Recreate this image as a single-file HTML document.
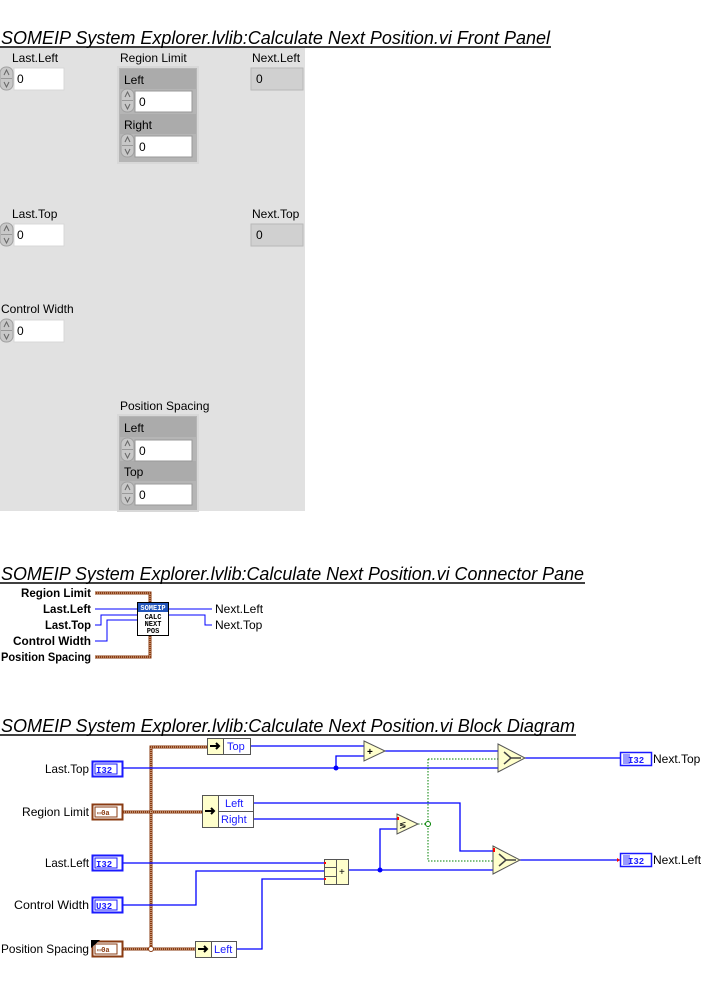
<!DOCTYPE html>
<html><head><meta charset="utf-8"><style>
html,body{margin:0;padding:0;background:#fff;width:703px;height:983px;overflow:hidden}
svg{display:block;font-family:"Liberation Sans",sans-serif}
</style></head><body>
<svg width="703" height="983" viewBox="0 0 703 983" xmlns="http://www.w3.org/2000/svg">
<defs>
<g id="spin">
<rect x="0" y="0" width="13" height="23" rx="6" fill="#c8c8c8" stroke="#a0a0a0"/>
<line x1="1" y1="11.5" x2="12" y2="11.5" stroke="#999"/>
<path d="M4 8 L6.5 3 L9 8" fill="none" stroke="#666" stroke-width="1"/>
<path d="M4 15 L6.5 20 L9 15" fill="none" stroke="#666" stroke-width="1"/>
</g>
</defs>
<!-- Front panel -->
<text x="1" y="44" font-size="18" font-style="italic" textLength="549" lengthAdjust="spacingAndGlyphs">SOMEIP System Explorer.lvlib:Calculate Next Position.vi Front Panel</text>
<line x1="0" y1="47" x2="551" y2="47" stroke="#000" stroke-width="1.5"/>
<rect x="0" y="48" width="305" height="463" fill="#e1e1e1"/>
<g font-size="12" fill="#000">
<text x="12" y="62">Last.Left</text>
<text x="120" y="62">Region Limit</text>
<text x="252" y="62">Next.Left</text>
<text x="12" y="218">Last.Top</text>
<text x="252" y="218">Next.Top</text>
<text x="1" y="313">Control Width</text>
<text x="120" y="410">Position Spacing</text>
</g>
<g font-size="12">
<use href="#spin" x="0" y="67"/><rect x="14" y="68" width="50" height="22" fill="#fff" stroke="#d8d8d8"/><text x="17" y="83">0</text>
<use href="#spin" x="0" y="223"/><rect x="14" y="224" width="50" height="22" fill="#fff" stroke="#d8d8d8"/><text x="17" y="239">0</text>
<use href="#spin" x="0" y="319"/><rect x="14" y="320" width="50" height="22" fill="#fff" stroke="#d8d8d8"/><text x="17" y="335">0</text>
<rect x="251" y="68" width="52" height="22" fill="#d0d0d0" stroke="#b8b8b8"/><text x="256" y="83">0</text>
<rect x="251" y="224" width="52" height="22" fill="#d0d0d0" stroke="#b8b8b8"/><text x="256" y="239">0</text>
<rect x="118" y="67" width="80" height="96" fill="#b5b5b5" stroke="#d8d8d8" stroke-width="2"/>
<rect x="120" y="69" width="76" height="20" fill="#ababab"/>
<rect x="120" y="114" width="76" height="20" fill="#ababab"/>
<text x="124" y="84">Left</text>
<use href="#spin" x="121" y="89"/><rect x="135" y="91" width="57" height="21" fill="#fff" stroke="#999"/><text x="139" y="106">0</text>
<text x="124" y="129">Right</text>
<use href="#spin" x="121" y="134"/><rect x="135" y="136" width="57" height="21" fill="#fff" stroke="#999"/><text x="139" y="151">0</text>
<rect x="118" y="415" width="80" height="96" fill="#b5b5b5" stroke="#d8d8d8" stroke-width="2"/>
<rect x="120" y="417" width="76" height="20" fill="#ababab"/>
<rect x="120" y="461" width="76" height="20" fill="#ababab"/>
<text x="124" y="432">Left</text>
<use href="#spin" x="121" y="438"/><rect x="135" y="440" width="57" height="21" fill="#fff" stroke="#999"/><text x="139" y="455">0</text>
<text x="124" y="476">Top</text>
<use href="#spin" x="121" y="482"/><rect x="135" y="484" width="57" height="21" fill="#fff" stroke="#999"/><text x="139" y="499">0</text>
</g>

<!-- Connector pane -->
<text x="1" y="580" font-size="18" font-style="italic" textLength="583" lengthAdjust="spacingAndGlyphs">SOMEIP System Explorer.lvlib:Calculate Next Position.vi Connector Pane</text>
<line x1="0" y1="583" x2="585" y2="583" stroke="#000" stroke-width="1.5"/>
<g font-size="12" font-weight="bold" lengthAdjust="spacingAndGlyphs">
<text x="21" y="597" textLength="70" lengthAdjust="spacingAndGlyphs">Region Limit</text>
<text x="43" y="613" textLength="48" lengthAdjust="spacingAndGlyphs">Last.Left</text>
<text x="45" y="629" textLength="46" lengthAdjust="spacingAndGlyphs">Last.Top</text>
<text x="13" y="645" textLength="78" lengthAdjust="spacingAndGlyphs">Control Width</text>
<text x="1" y="661" textLength="90" lengthAdjust="spacingAndGlyphs">Position Spacing</text>
</g>
<g fill="none">
<path d="M95 593 H150 V603" stroke="#8a3b12" stroke-width="3"/>
<path d="M95 593 H150 V603" stroke="#e8c8a8" stroke-width="1" stroke-dasharray="1 1"/>
<path d="M95 657 H150 V636" stroke="#8a3b12" stroke-width="3"/>
<path d="M95 657 H150 V636" stroke="#e8c8a8" stroke-width="1" stroke-dasharray="1 1"/>
<path d="M95 609 H137" stroke="#0000ff"/>
<path d="M95 625 H101 V615 H137" stroke="#0000ff"/>
<path d="M95 641 H107 V620 H137" stroke="#0000ff"/>
<path d="M169 609 H212" stroke="#0000ff"/>
<path d="M169 615 H205 V625 H212" stroke="#0000ff"/>
</g>
<rect x="137.5" y="602.5" width="31" height="33" fill="#fff" stroke="#000"/>
<rect x="138" y="603" width="30" height="9" fill="#2255bb"/>
<g font-family="Liberation Mono,monospace" font-size="7" text-anchor="middle" font-weight="bold">
<text x="153" y="610" fill="#fff">SOMEIP</text>
<text x="153" y="619">CALC</text>
<text x="153" y="626">NEXT</text>
<text x="153" y="633">POS</text>
</g>
<g font-size="12"><text x="215" y="613">Next.Left</text><text x="215" y="629">Next.Top</text></g>

<!-- Block diagram -->
<text x="1" y="732" font-size="18" font-style="italic" textLength="574" lengthAdjust="spacingAndGlyphs">SOMEIP System Explorer.lvlib:Calculate Next Position.vi Block Diagram</text>
<line x1="0" y1="735" x2="576" y2="735" stroke="#000" stroke-width="1.5"/>
<g font-size="12">
<text x="45" y="773" textLength="44" lengthAdjust="spacingAndGlyphs">Last.Top</text>
<text x="22" y="816" textLength="67" lengthAdjust="spacingAndGlyphs">Region Limit</text>
<text x="45" y="867" textLength="44" lengthAdjust="spacingAndGlyphs">Last.Left</text>
<text x="14" y="909" textLength="75" lengthAdjust="spacingAndGlyphs">Control Width</text>
<text x="1" y="953" textLength="88" lengthAdjust="spacingAndGlyphs">Position Spacing</text>
</g>
<g fill="none">
<path d="M122 812 H202 M122 949 H195 M151 949 V747 H207" stroke="#8a3b12" stroke-width="3"/>
<path d="M122 812 H202 M122 949 H195 M151 949 V747 H207" stroke="#f0d8c0" stroke-width="1" stroke-dasharray="1 1"/>
</g>
<circle cx="151" cy="949" r="2.5" fill="#fff" stroke="#8a3b12"/>
<g fill="none" stroke="#0000ff" stroke-width="1.3">
<path d="M250 746 H364"/>
<path d="M122 768 H498"/>
<path d="M336 768 V756 H364"/>
<path d="M385 751 H498"/>
<path d="M525 758 H620"/>
<path d="M253 803 H460 V851 H493"/>
<path d="M253 819 H397"/>
<path d="M122 863 H324"/>
<path d="M122 905 H196 V871 H324"/>
<path d="M236 949 H262 V879 H324"/>
<path d="M349 870 H493"/>
<path d="M380 870 V829 H397"/>
<path d="M520 860 H620"/>
</g>
<circle cx="336" cy="768" r="2.5" fill="#0000ff"/>
<circle cx="380" cy="870" r="2.5" fill="#0000ff"/>
<g fill="none" stroke="#008000" stroke-dasharray="1.5 1.5">
<path d="M418 824 H428 M428 759 V861 M428 759 H498 M428 861 H493"/>
</g>
<circle cx="428" cy="824" r="2.5" fill="#fff" stroke="#008000"/>
<g font-family="Liberation Mono,monospace" font-size="9" font-weight="bold">
<rect x="92.5" y="761.5" width="30" height="15" fill="#fff" stroke="#1a1aff" stroke-width="2"/><rect x="95" y="764" width="22" height="10" fill="none" stroke="#1a1aff"/><text x="96" y="773" fill="#1a1aff">I32</text>
<rect x="92.5" y="855.5" width="30" height="15" fill="#fff" stroke="#1a1aff" stroke-width="2"/><rect x="95" y="858" width="22" height="10" fill="none" stroke="#1a1aff"/><text x="96" y="867" fill="#1a1aff">I32</text>
<rect x="92.5" y="897.5" width="30" height="15" fill="#fff" stroke="#1a1aff" stroke-width="2"/><rect x="95" y="900" width="22" height="10" fill="none" stroke="#1a1aff"/><text x="96" y="909" fill="#1a1aff">U32</text>
<rect x="92.5" y="804.5" width="30" height="15" fill="#fff" stroke="#8a3b12" stroke-width="2"/><rect x="95" y="807" width="22" height="10" fill="none" stroke="#8a3b12"/><text x="97" y="815" fill="#8a3b12" font-size="7">▭0a</text>
<rect x="92.5" y="941.5" width="30" height="15" fill="#fff" stroke="#8a3b12" stroke-width="2"/><rect x="95" y="944" width="22" height="10" fill="none" stroke="#8a3b12"/><text x="97" y="952" fill="#8a3b12" font-size="7">▭0a</text>
<path d="M91 940 H100 L91 948 Z" fill="#000"/>
<rect x="620.5" y="752.5" width="31" height="13" fill="#fff" stroke="#1a1aff" stroke-width="1.5"/><rect x="623" y="754" width="7" height="10" fill="#9999ff"/><text x="628" y="763" fill="#1a1aff">I32</text>
<rect x="620.5" y="853.5" width="31" height="13" fill="#fff" stroke="#1a1aff" stroke-width="1.5"/><rect x="623" y="855" width="7" height="10" fill="#9999ff"/><text x="628" y="864" fill="#1a1aff">I32</text>
</g>
<g font-size="12"><text x="653" y="763">Next.Top</text><text x="653" y="864">Next.Left</text></g>
<g font-size="11" fill="#1a1aff">
<rect x="207.5" y="738.5" width="43" height="16" fill="#fff" stroke="#555"/><rect x="207.5" y="738.5" width="16" height="16" fill="#ffffcc" stroke="#555"/><path d="M210 746 H218 M216 743 L219 746 L216 749" stroke="#000" stroke-width="2" fill="none"/><text x="227" y="750">Top</text>
<rect x="202.5" y="795.5" width="51" height="32" fill="#fff" stroke="#555"/><rect x="202.5" y="795.5" width="16" height="32" fill="#ffffcc" stroke="#555"/><line x1="218" y1="811.5" x2="253" y2="811.5" stroke="#555"/><path d="M205 811 H213 M211 808 L214 811 L211 814" stroke="#000" stroke-width="2" fill="none"/><text x="225" y="807">Left</text><text x="221" y="823">Right</text>
<rect x="195.5" y="941.5" width="41" height="16" fill="#fff" stroke="#555"/><rect x="195.5" y="941.5" width="16" height="16" fill="#ffffcc" stroke="#555"/><path d="M198 949 H206 M204 946 L207 949 L204 952" stroke="#000" stroke-width="2" fill="none"/><text x="214" y="953">Left</text>
</g>
<rect x="324.5" y="859.5" width="24" height="25" fill="#ffffcc" stroke="#555"/>
<line x1="336.5" y1="859.5" x2="336.5" y2="884.5" stroke="#555"/>
<line x1="324.5" y1="867.5" x2="336.5" y2="867.5" stroke="#555"/><line x1="324.5" y1="876.5" x2="336.5" y2="876.5" stroke="#555"/>
<text x="339" y="875" font-size="10">+</text>
<rect x="324" y="862" width="2" height="2" fill="#f00"/><rect x="324" y="878" width="2" height="2" fill="#f00"/>
<path d="M364 741 L385 751 L364 761 Z" fill="#ffffcc" stroke="#555"/>
<text x="367" y="755" font-size="10" font-weight="bold">+</text>
<path d="M397 814 L418 824 L397 834 Z" fill="#ffffcc" stroke="#555"/>
<text x="399" y="828" font-size="9">≶</text>
<rect x="397" y="817" width="2" height="3" fill="#f00"/>
<g fill="none" stroke="#444" stroke-width="1.5">
<path d="M498 744 L525 758 L498 772 Z" fill="#ffffcc" stroke="#555" stroke-width="1"/>
<path d="M511 758 H521 M511 758 L504 752 M511 758 L504 764"/>
<path d="M493 846 L520 860 L493 874 Z" fill="#ffffcc" stroke="#555" stroke-width="1"/>
<path d="M506 860 H516 M506 860 L499 854 M506 860 L499 866"/>
</g>
<rect x="493" y="848" width="2" height="4" fill="#f00"/>
<path d="M617 858 L620 860 L617 862 Z" fill="#f00"/>
</svg>
</body></html>
